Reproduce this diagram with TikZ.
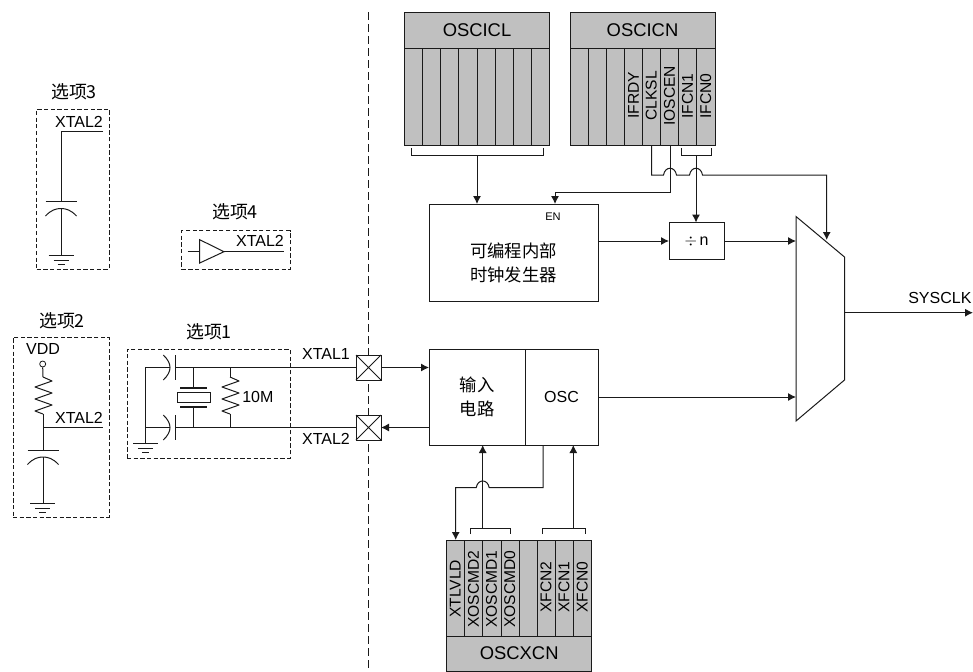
\documentclass[tikz,border=0pt]{standalone}
\usepackage{fontspec}
\setmainfont{Liberation Sans}
\newfontfamily\cjk{Noto Sans CJK SC}
\usetikzlibrary{arrows.meta,calc}
\definecolor{reggray}{HTML}{C0C0C0}
\definecolor{ink}{HTML}{1A1A1A}
\tikzset{
  wire/.style={draw=ink,line width=0.75pt},
  arr/.style={wire,-{Latex[length=6pt,width=6pt]}},
  dbox/.style={draw=ink,line width=0.6pt,dash pattern=on 3.2pt off 1.8pt,inner sep=0,outer sep=0},
  block/.style={draw=ink,line width=0.75pt,fill=white,inner sep=0,outer sep=0},
  regpart/.style={draw=ink,line width=0.75pt,fill=reggray,inner sep=0,outer sep=0},
  lab/.style={inner sep=0,font=\fontsize{12}{13}\selectfont},
  zh/.style={inner sep=0,font=\cjk\fontsize{13}{15}\selectfont},
  opt/.style={inner sep=0,font=\cjk\fontsize{13.4}{15}\selectfont},
  reglab/.style={inner sep=0,font=\fontsize{13.8}{15}\selectfont},
  bitlab/.style={inner sep=0,anchor=west,rotate=90,font=\fontsize{11.7}{13}\selectfont},
  padbox/.style={block,minimum width=18.75pt,minimum height=18.75pt}
}
\newcommand{\xgnd}[2]{%
  \draw[wire] (#1-12.5,#2) -- (#1+12.5,#2) (#1-7.5,#2+5) -- (#1+7.5,#2+5) (#1-3.5,#2+9.5) -- (#1+3.5,#2+9.5);}
\newcommand{\xres}[2]{%
  \draw[wire,line join=round] (#1,#2) -- (#1+9,#2+4) -- (#1-8,#2+10) -- (#1+9,#2+16) -- (#1-8,#2+22) -- (#1+9,#2+28) -- (#1-8,#2+34) -- (#1,#2+37);}
\newcommand{\xcapv}[2]{%
  \draw[wire] (#1-15.5,#2) -- (#1+15.5,#2);
  \draw[wire] (#1-15.5,#2+14.5) .. controls (#1-10,#2+8.5) and (#1-5,#2+7) .. (#1,#2+7) .. controls (#1+5,#2+7) and (#1+10,#2+8.5) .. (#1+15.5,#2+14.5);}
\newcommand{\xcaph}[2]{%
  \draw[wire] (#1+5.3,#2-12.5) -- (#1+5.3,#2+12.5);
  \draw[wire] (#1-6.7,#2-12.5) .. controls (#1-2,#2-8) and (#1,#2-4) .. (#1,#2) .. controls (#1,#2+4) and (#1-2,#2+8) .. (#1-6.7,#2+12.5);}
\newcommand{\xjump}[2]{ -- (#1-6.5,#2) .. controls (#1-5,#2-9) and (#1+5,#2-9) .. (#1+6.5,#2) }
\begin{document}
\begin{tikzpicture}[x=0.75pt,y=-0.75pt]
\useasboundingbox (0,0) rectangle (973,671);
% divider
\coordinate (divtop) at (368,12);
\coordinate (divbot) at (368,671);
\draw[wire,dash pattern=on 6pt off 3pt] (divtop) -- (divbot);

% OSCICL
\node[regpart,minimum width=108.75pt,minimum height=26.625pt,anchor=north west] (iclh) at (404.5,12.5) {};
\node[reglab] at (iclh.center) {OSCICL};
\foreach \i in {0,...,7} \draw[regpart] (404.5+18.125*\i,48) rectangle +(18.125,97);
% OSCICN
\node[regpart,minimum width=108.75pt,minimum height=26.625pt,anchor=north west] (icnh) at (570,12.5) {};
\node[reglab] at (icnh.center) {OSCICN};
\foreach \i in {0,...,7} \draw[regpart] (570+18.125*\i,48) rectangle +(18.125,97);
\node[bitlab] at (633.4,119) {IFRDY};
\node[bitlab] at (651.3,121) {CLKSL};
\node[bitlab] at (669.6,126) {IOSCEN};
\node[bitlab] at (687.6,119) {IFCN1};
\node[bitlab] at (705.8,119) {IFCN0};

% OSCXCN
\node[regpart,minimum width=108.75pt,minimum height=26.25pt,anchor=north west] (xcnh) at (446.7,636) {};
\node[reglab] at (xcnh.center) {OSCXCN};
\foreach \i in {0,...,7} \draw[regpart] (446.7+18.125*\i,540) rectangle +(18.125,96);
\node[bitlab] at (455.3,618) {XTLVLD};
\node[bitlab] at (473.5,628) {XOSCMD2};
\node[bitlab] at (491.6,628) {XOSCMD1};
\node[bitlab] at (509.7,628) {XOSCMD0};
\node[bitlab] at (546,613) {XFCN2};
\node[bitlab] at (564,613) {XFCN1};
\node[bitlab] at (582.2,613) {XFCN0};

% blocks
\node[block,minimum width=126.75pt,minimum height=72.75pt,anchor=north west] (gen) at (429,204) {};
\node[zh,align=center] at (513.5,263) {可编程内部\\[3.5pt]时钟发生器};
\node[inner sep=0,font=\fontsize{8.3}{9}\selectfont] (en) at (553,217) {EN};
\node[block,minimum width=41.25pt,minimum height=27.75pt,anchor=north west] (div) at (669,222.5) {};
\node[inner sep=0,font=\fontsize{12}{14}\selectfont] at (div.center) {$\div$\,n};
\node[block,minimum width=72pt,minimum height=72pt,anchor=north west] (inp) at (429,349) {};
\node[block,minimum width=54.75pt,minimum height=72pt,anchor=north west] (osc) at (525,349) {};
\node[zh,align=center] at (477,397) {输入\\[3.5pt]电路};
\node[lab] at (osc.center) {OSC};

% mux
\coordinate (m1) at (796,216.5);
\coordinate (m2) at (844.5,257);
\coordinate (m3) at (844.5,380);
\coordinate (m4) at (796,421);
\draw[wire,fill=white] (m1) -- (m2) -- (m3) -- (m4) -- cycle;

% top brackets
\coordinate (iclb) at (477,155);
\draw[wire] (411,148) -- (411,155) -- (543,155) -- (543,148);
\draw[arr] (iclb) -- (iclb |- gen.north);
\coordinate (enend) at (555,192);
\coordinate (iosc) at (670,145);
\draw[arr] (iosc) -- (iosc |- enend) -- (enend) -- (enend |- gen.north);
\draw[wire] (681.7,148) -- (681.7,155) -- (711.7,155) -- (711.7,148);
\coordinate (ifc) at (696,155);
\draw[arr] (ifc) -- (ifc |- div.north);
\coordinate (clk) at (651.7,145);
\coordinate (muxsel) at (826.7,240);
\draw[arr] (clk) -- (651.7,175) \xjump{670}{175} \xjump{696}{175} -- (826.7,175) -- (muxsel);

% mid arrows
\draw[arr] (gen.east |- div.west) -- (div.west);
\draw[arr] (div.east) -- (div.east -| m1);
\coordinate (oscout) at (598,397);
\draw[arr] (oscout) -- (oscout -| m1);
\coordinate (out) at (973,312.7);
\draw[arr] (out -| m2) -- (out);
\node[lab,anchor=east] at (971.7,297.5) {SYSCLK};

% bottom brackets
\draw[wire] (470.7,534) -- (470.7,528) -- (510,528) -- (510,534);
\draw[wire] (542.7,534) -- (542.7,528) -- (585.7,528) -- (585.7,534);
\coordinate (xo) at (482.7,528);
\coordinate (xf) at (573.3,528);
\draw[arr] (xo) -- (xo |- inp.south);
\draw[arr] (xf) -- (xf |- osc.south);
\coordinate (vld) at (455.7,540);
\draw[arr] (543,445) -- (543,487.7) -- (489.2,487.7) .. controls (487.7,478.7) and (477.7,478.7) .. (476.2,487.7) -- (455.7,487.7) -- (vld);

% pads
\node[padbox] (p1) at (368.5,367.5) {};
\node[padbox] (p2) at (368.5,427.5) {};
\foreach \p in {p1,p2} \draw[wire] (\p.north west) -- (\p.south east) (\p.north east) -- (\p.south west);
\draw[arr] (p1.east) -- (p1.east -| inp.west);
\draw[arr] (p2.east -| inp.west) -- (p2.east);

% option 1
\node[dbox,minimum width=122.25pt,minimum height=81.75pt,anchor=north west] (o1) at (127,349) {};
\node[opt] at (209,332) {选项1};
\draw[wire] (170,367.5) -- (145,367.5) -- (145,443);
\draw[wire] (145,427.5) -- (170,427.5);
\draw[wire] (175.3,367.5) -- (p1.west);
\draw[wire] (175.3,427.5) -- (p2.west);
\xcaph{170}{367.5}
\xcaph{170}{427.5}
\xgnd{145.5}{443}
\draw[wire] (193.3,367.5) -- (193.3,388) (193.3,407) -- (193.3,427.5);
\draw[draw=ink,line width=1.3pt] (180,388) -- (207,388) (180,407) -- (207,407);
\draw[wire] (177.3,392.7) rectangle (210,402);
\draw[wire] (230,367.5) -- (230,377) (230,414) -- (230,427.5);
\xres{230}{377}
\node[lab,anchor=west] at (242,397) {10M};
\node[lab] at (326,354) {XTAL1};
\node[lab] at (326,439) {XTAL2};

% option 2
\node[dbox,minimum width=72pt,minimum height=135pt,anchor=north west] (o2) at (13,337) {};
\node[opt] at (62,321) {选项2};
\node[lab] at (43,349) {VDD};
\node[draw=ink,line width=0.6pt,circle,inner sep=0,minimum size=4.5pt] (vdd) at (42.7,364) {};
\draw[wire] (vdd.south) -- (43,377);
\xres{43}{377}
\draw[wire] (43,414) -- (43,450) (43,457) -- (43,503);
\draw[wire] (43,427) -- (103,427);
\node[lab] at (79,418) {XTAL2};
\xcapv{43}{450}
\xgnd{42.5}{503}

% option 3
\node[dbox,minimum width=54.3pt,minimum height=120pt,anchor=north west] (o3) at (36.7,109) {};
\node[opt] at (74,92) {选项3};
\node[lab] at (79,122) {XTAL2};
\draw[wire] (103,131) -- (61,131) -- (61,201.5) (61,208.5) -- (61,255);
\xcapv{61}{201.5}
\xgnd{61}{255}

% option 4
\node[dbox,minimum width=81.2pt,minimum height=28.9pt,anchor=north west] (o4) at (181.7,230.7) {};
\node[opt] at (235,212) {选项4};
\node[lab] at (260,241) {XTAL2};
\coordinate (t1) at (199.7,239.7);
\coordinate (t2) at (224,251.7);
\coordinate (t3) at (199.7,263);
\draw[wire] (t1) -- (t2) -- (t3) -- cycle;
\draw[wire] (187.7,251.7) -- (199.7,251.7);
\draw[wire] (t2) -- (284,251.7);
\end{tikzpicture}
\end{document}
